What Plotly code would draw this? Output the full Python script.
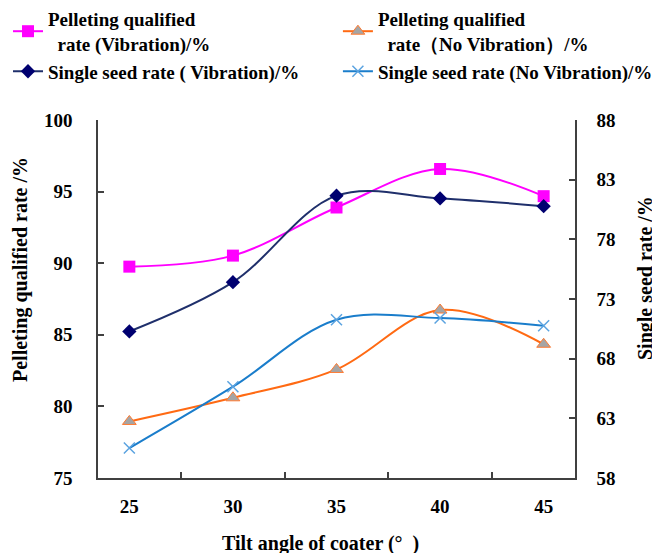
import plotly.graph_objects as go

angles = ["25", "30", "35", "40", "45"]
pellet_vib = [89.76, 90.53, 93.89, 96.58, 94.68]
pellet_novib = [78.95, 80.6, 82.58, 86.73, 84.34]
single_vib = [70.28, 74.41, 81.66, 81.43, 80.78]
single_novib = [60.51, 65.65, 71.26, 71.40, 70.76]

names = [
    "Pelleting qualified<br>  rate (Vibration)/%",
    "Pelleting qualified<br>  rate\uff08No Vibration\uff09/%",
    "Single seed rate ( Vibration)/%",
    "Single seed rate (No Vibration)/%",
]
x_title = "Tilt angle of coater (\u00b0  )"
y_title = "Pelleting qualified rate /%"
y2_title = "Single seed rate /%"

FONT = "Liberation Serif"
# page body has an 8px margin, so the figure is sized to fill the rest of the window
W, H = 652, 545
ML, MR, MT, MB = 90, 85, 112, 75
PW, PH = W - ML - MR, H - MT - MB

fig = go.Figure()

fig.add_trace(go.Scatter(
    x=angles, y=pellet_vib, name=names[0], mode="lines+markers",
    line=dict(color="#FF00FF", width=2, shape="spline", smoothing=1.0),
    marker=dict(symbol="square", size=12, color="#FF00FF"),
    legend="legend", yaxis="y"))
fig.add_trace(go.Scatter(
    x=angles, y=single_vib, name=names[2], mode="lines+markers",
    line=dict(color="#1F2F6B", width=2, shape="spline", smoothing=1.0),
    marker=dict(symbol="diamond", size=11, color="#000070"),
    legend="legend", yaxis="y2"))
fig.add_trace(go.Scatter(
    x=angles, y=pellet_novib, name=names[1], mode="lines+markers",
    line=dict(color="#FF6A13", width=2, shape="spline", smoothing=1.0),
    marker=dict(symbol="triangle-up", size=12, color="#A5A5A5",
                line=dict(color="#FF7A30", width=1)),
    legend="legend2", yaxis="y"))
fig.add_trace(go.Scatter(
    x=angles, y=single_novib, name=names[3], mode="lines+markers",
    line=dict(color="#1A7DCB", width=2, shape="spline", smoothing=1.0),
    marker=dict(symbol="x-thin-open", size=11, color="#5BA3E0",
                line=dict(color="#5BA3E0", width=1.5)),
    legend="legend2", yaxis="y2"))

axis_common = dict(
    showline=True, linecolor="#404040", linewidth=1.5,
    ticks="inside", ticklen=6, tickcolor="#404040", tickwidth=1.5,
    showgrid=False, zeroline=False, automargin=False,
    tickfont=dict(family=FONT, size=19, color="black", weight="bold"),
)
title_font = dict(family=FONT, size=20, color="black", weight="bold")
legend_font = dict(family=FONT, size=19, color="black", weight="bold")

LEG_Y = 1 + (MT + 8) / PH

fig.update_layout(
    width=W, height=H,
    margin=dict(l=ML, r=MR, t=MT, b=MB, autoexpand=False),
    plot_bgcolor="white", paper_bgcolor="white",
    font=dict(family=FONT, color="black"),
    xaxis=dict(**axis_common, type="category", tickson="boundaries",
               ticklabelstandoff=10, tickangle=0),
    yaxis=dict(**axis_common, range=[75, 100], dtick=5, tick0=75,
               ticklabelstandoff=20),
    yaxis2=dict(**axis_common, range=[58, 88], dtick=5, tick0=58,
                overlaying="y", side="right", ticklabelstandoff=16),
    legend=dict(
        xref="container", yref="paper", x=0.0, y=LEG_Y,
        xanchor="left", yanchor="top", bgcolor="rgba(0,0,0,0)",
        font=legend_font, tracegroupgap=0, traceorder="normal",
    ),
    legend2=dict(
        xref="container", yref="paper", x=0.506, y=LEG_Y,
        xanchor="left", yanchor="top", bgcolor="rgba(0,0,0,0)",
        font=legend_font, tracegroupgap=0, traceorder="normal",
    ),
    annotations=[
        dict(text=y_title, textangle=-90, showarrow=False, font=title_font,
             xref="paper", yref="paper", x=(12 - ML) / PW, y=(H - MB - 262) / PH,
             xanchor="center", yanchor="middle"),
        dict(text=y2_title, textangle=-90, showarrow=False, font=title_font,
             xref="paper", yref="paper", x=(637 - ML) / PW, y=(H - MB - 270) / PH,
             xanchor="center", yanchor="middle"),
        dict(text=x_title, showarrow=False, font=title_font,
             xref="paper", yref="paper", x=(312 - ML) / PW, y=(H - MB - 535) / PH,
             xanchor="center", yanchor="middle"),
    ],
)

fig.write_html("out.html")
